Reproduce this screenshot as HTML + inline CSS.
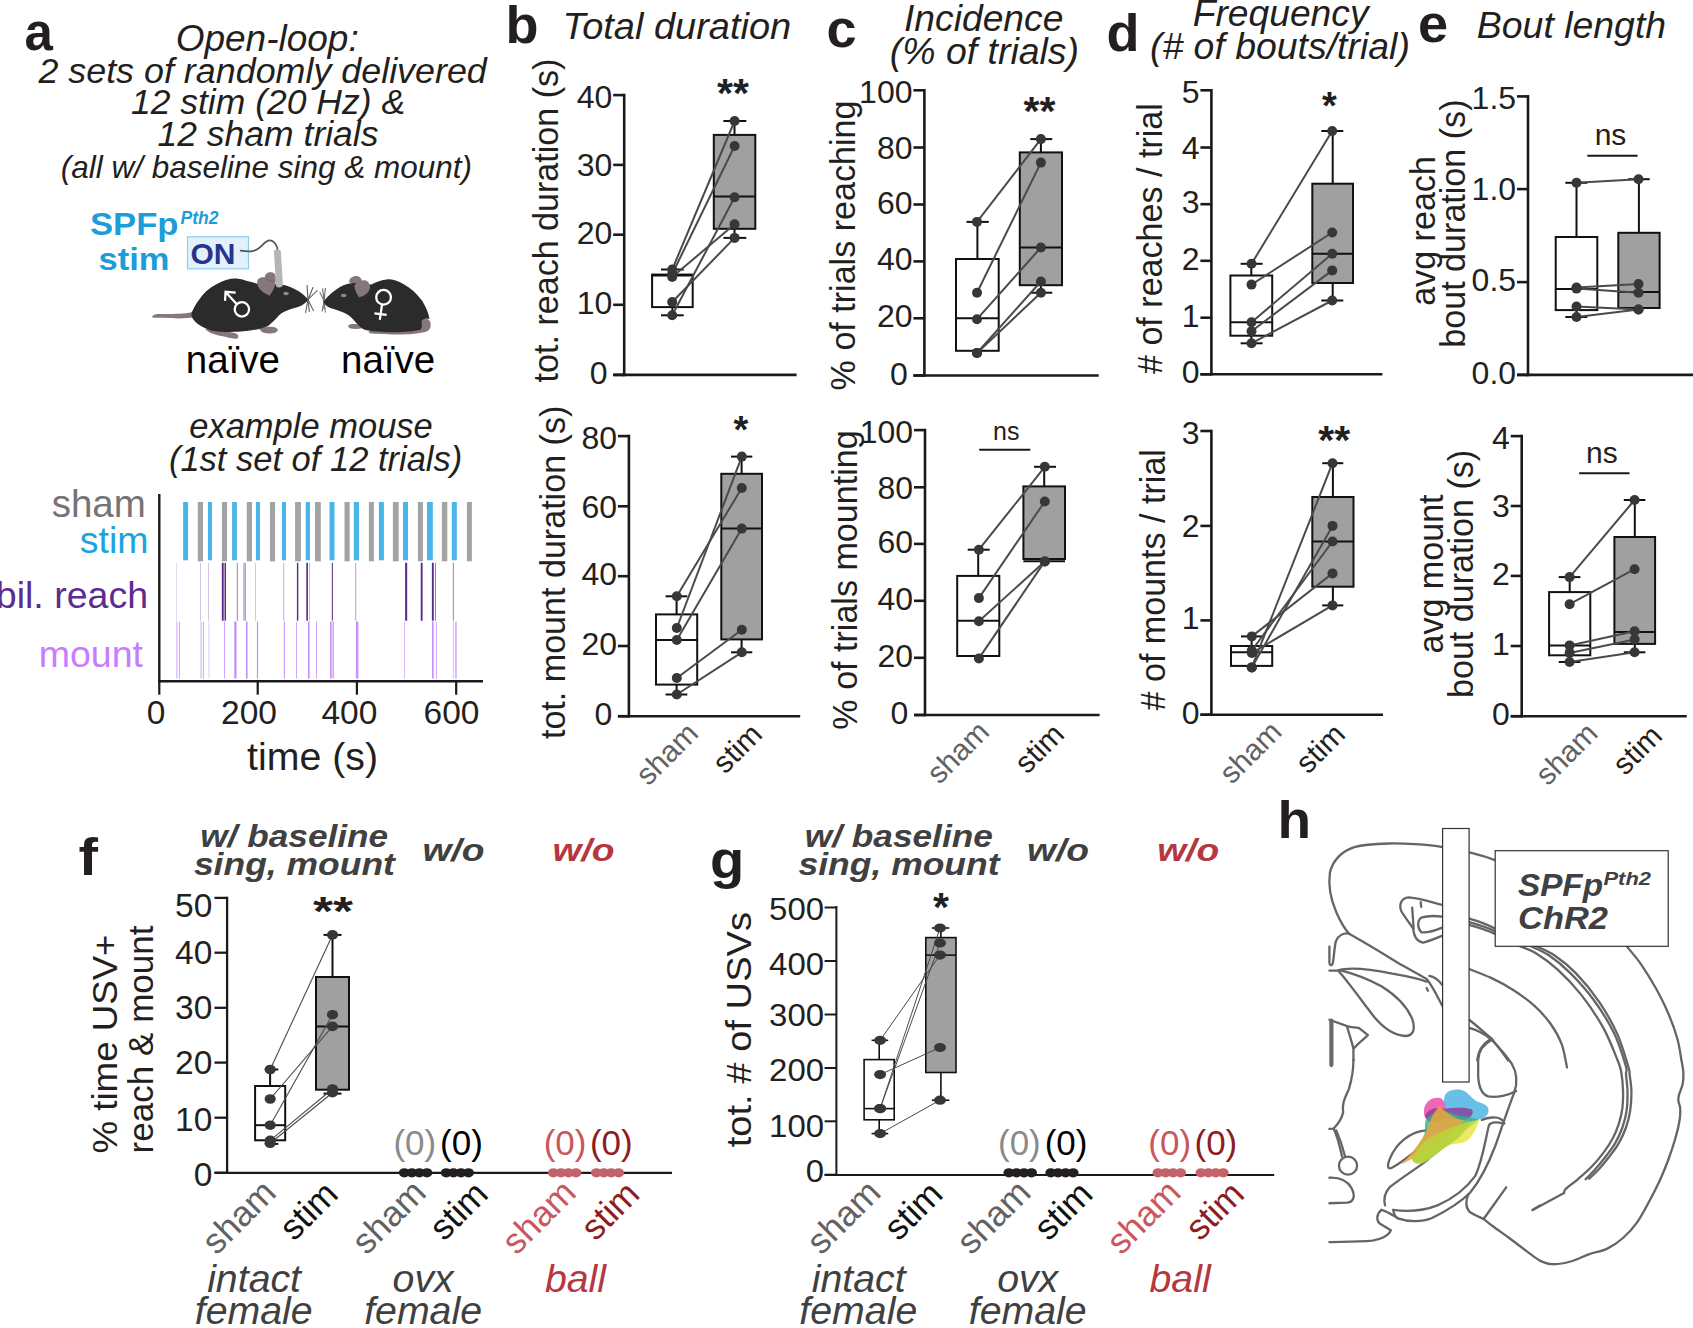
<!DOCTYPE html>
<html><head><meta charset="utf-8"><title>Figure</title>
<style>
html,body{margin:0;padding:0;background:#fff;}
svg{display:block;font-family:"Liberation Sans",sans-serif;fill:#231f20;}
</style></head><body>
<svg width="1693" height="1328" viewBox="0 0 1693 1328">
<rect width="1693" height="1328" fill="#fff"/>
<g id="panel-a">
<text x="24.5" y="49.6" font-size="51" font-weight="bold" >a</text>
<text x="267.2" y="50.7" font-size="37" text-anchor="middle" font-style="italic" >Open-loop:</text>
<text x="262.6" y="82.9" font-size="35.5" text-anchor="middle" font-style="italic" textLength="448.4" lengthAdjust="spacingAndGlyphs" >2 sets of randomly delivered</text>
<text x="268.0" y="113.6" font-size="35.5" text-anchor="middle" font-style="italic" >12 stim (20 Hz) &amp;</text>
<text x="268.0" y="145.9" font-size="35.5" text-anchor="middle" font-style="italic" >12 sham trials</text>
<text x="266.4" y="178.1" font-size="31.5" text-anchor="middle" font-style="italic" >(all w/ baseline sing &amp; mount)</text>
<text x="90.0" y="235.0" font-size="30.5" fill="#1b9dd9" font-weight="bold" textLength="88.5" lengthAdjust="spacingAndGlyphs" >SPFp</text>
<text x="180.5" y="224.0" font-size="17.5" fill="#1b9dd9" font-weight="bold" font-style="italic" >Pth2</text>
<text x="98.5" y="270.0" font-size="30.5" fill="#1b9dd9" font-weight="bold" textLength="71.0" lengthAdjust="spacingAndGlyphs" >stim</text>
<rect x="187.5" y="236.8" width="61" height="32" fill="#e2f1fb" stroke="#8fcdf0" stroke-width="1.2"/>
<text x="190.5" y="264.2" font-size="30" fill="#27348b" font-weight="bold" >ON</text>
<g transform="translate(80,200) scale(0.21853)">
<path d="M735,232 C775,238 795,238 820,220 C845,195 860,178 880,188 C898,198 903,215 906,235" fill="none" stroke="#555" stroke-width="8" stroke-linecap="round"/>
</g>
<g transform="translate(140,260) scale(0.09452)">
<path d="M590,545 C575,535 555,540 545,552 C450,572 300,572 180,570 C150,575 130,590 125,603 C135,612 180,612 250,612 C330,616 420,622 500,614 C540,612 570,606 590,600 Z" fill="#85777a"/>
<path d="M690,730 C720,770 800,795 900,812 C950,822 1000,840 1030,830 C1050,815 1040,785 1010,775 C950,760 850,750 760,735 Z" fill="#85777a"/>
<path d="M1265,725 C1275,760 1310,775 1360,778 C1410,780 1455,765 1458,740 C1455,715 1420,705 1380,705 C1340,705 1300,712 1265,725 Z" fill="#85777a"/>
<path d="M545,565 C570,490 640,390 700,330 C770,270 860,225 930,205 C980,190 1050,195 1100,212 C1180,235 1250,255 1300,262 C1380,262 1450,255 1500,258 C1560,265 1620,295 1680,330 C1720,355 1760,395 1782,420 C1760,450 1720,480 1680,495 C1620,510 1560,530 1500,560 C1460,590 1420,650 1350,700 C1300,725 1200,745 1100,755 C1000,765 850,765 750,745 C680,725 600,680 565,630 C548,605 540,585 545,565 Z" fill="#2b2b2b"/>
<path d="M1240,240 C1235,200 1275,175 1320,185 C1320,140 1370,120 1410,135 C1440,150 1440,200 1435,235 C1430,290 1400,340 1370,378 C1330,360 1280,330 1255,290 C1245,270 1240,255 1240,240 Z" fill="#85777a"/>
<path d="M1330,190 C1345,215 1385,225 1425,222" fill="none" stroke="#5d5154" stroke-width="9" opacity="0.55"/>
<path d="M1416,-95 C1425,-118 1480,-118 1490,-95 L1512,268 C1500,295 1455,298 1440,278 Z" fill="#b5b5b5"/>
<ellipse cx="1545" cy="355" rx="30" ry="19" fill="#8a8a8a"/>
<circle cx="1078" cy="522" r="76" fill="none" stroke="#fff" stroke-width="24"/>
<path d="M1025,468 L915,348 M900,432 L905,337 L1012,346" fill="none" stroke="#fff" stroke-width="24"/>
<line x1="1777" y1="420" x2="1767" y2="265" stroke="#5a5a5a" stroke-width="11"/>
<line x1="1777" y1="420" x2="1832" y2="285" stroke="#5a5a5a" stroke-width="11"/>
<line x1="1777" y1="420" x2="1877" y2="320" stroke="#5a5a5a" stroke-width="11"/>
<line x1="1777" y1="420" x2="1752" y2="560" stroke="#5a5a5a" stroke-width="11"/>
<line x1="1777" y1="420" x2="1792" y2="550" stroke="#5a5a5a" stroke-width="11"/>
<line x1="1777" y1="420" x2="1837" y2="540" stroke="#5a5a5a" stroke-width="11"/>
</g>
<g transform="translate(290,260) scale(0.09452)">
<line x1="360" y1="430" x2="375" y2="295" stroke="#6a6a6a" stroke-width="11"/>
<line x1="360" y1="430" x2="345" y2="300" stroke="#6a6a6a" stroke-width="11"/>
<line x1="360" y1="430" x2="315" y2="340" stroke="#6a6a6a" stroke-width="11"/>
<line x1="360" y1="430" x2="340" y2="545" stroke="#6a6a6a" stroke-width="11"/>
<line x1="360" y1="430" x2="375" y2="555" stroke="#6a6a6a" stroke-width="11"/>
<line x1="360" y1="430" x2="358" y2="520" stroke="#6a6a6a" stroke-width="11"/>
<path d="M615,695 C620,678 660,672 720,680 C750,690 765,710 760,722 C720,735 650,730 625,720 Z" fill="#85777a"/>
<path d="M1390,620 C1420,605 1465,620 1482,650 C1495,690 1488,725 1465,745 C1420,772 1300,785 1200,787 C1050,790 900,782 845,775 C825,768 825,755 850,752 L1380,730 Z" fill="#85777a"/>
<path d="M625,235 C625,195 660,168 705,170 C745,175 765,205 760,240 L700,270 Z" fill="#85777a"/>
<path d="M355,440 C380,400 450,335 520,290 C580,255 650,240 720,245 C780,255 820,265 860,258 C900,240 960,212 1020,205 C1080,200 1140,222 1200,255 C1280,300 1350,365 1400,435 C1440,500 1468,570 1475,625 C1440,610 1400,620 1392,650 C1395,690 1400,720 1380,738 C1300,760 1150,768 1000,762 C900,758 800,750 760,722 C720,690 690,650 640,600 C580,550 480,525 420,505 C385,490 360,465 355,440 Z" fill="#2b2b2b"/>
<path d="M680,275 C690,240 740,215 790,215 C830,222 850,255 845,300 C835,345 790,385 730,395 C705,360 685,315 680,275 Z" fill="#85777a"/>
<ellipse cx="568" cy="375" rx="30" ry="18" fill="#8a8a8a"/>
<circle cx="990" cy="395" r="78" fill="none" stroke="#fff" stroke-width="24"/>
<path d="M973,476 L950,632 M893,566 L1022,581" fill="none" stroke="#fff" stroke-width="24"/>
</g>
<text x="232.9" y="372.5" font-size="38.5" text-anchor="middle" fill="#000" >naïve</text>
<text x="388.1" y="372.5" font-size="38.5" text-anchor="middle" fill="#000" >naïve</text>
<text x="311.0" y="438.1" font-size="34.5" text-anchor="middle" font-style="italic" >example mouse</text>
<text x="315.6" y="471.3" font-size="34.5" text-anchor="middle" font-style="italic" >(1st set of 12 trials)</text>
<text x="145.8" y="517.2" font-size="38.5" text-anchor="end" fill="#747474" >sham</text>
<text x="148.5" y="552.6" font-size="37.5" text-anchor="end" fill="#20a3dc" >stim</text>
<text x="148.0" y="608.2" font-size="37.5" text-anchor="end" fill="#5c2d91" >bil. reach</text>
<text x="143.0" y="666.6" font-size="37.5" text-anchor="end" fill="#c77dff" >mount</text>
<rect x="183.1" y="502.0" width="5.0" height="58.3" fill="#4ab5e8"/>
<rect x="207.9" y="502.0" width="4.1" height="58.3" fill="#4ab5e8"/>
<rect x="232.1" y="502.0" width="4.8" height="58.3" fill="#4ab5e8"/>
<rect x="255.9" y="502.0" width="4.1" height="58.3" fill="#4ab5e8"/>
<rect x="281.9" y="502.0" width="4.1" height="58.3" fill="#4ab5e8"/>
<rect x="305.7" y="502.0" width="4.3" height="58.3" fill="#4ab5e8"/>
<rect x="329.5" y="502.0" width="5.0" height="58.3" fill="#4ab5e8"/>
<rect x="353.8" y="502.0" width="5.2" height="58.3" fill="#4ab5e8"/>
<rect x="378.9" y="502.0" width="5.0" height="58.3" fill="#4ab5e8"/>
<rect x="403.0" y="502.0" width="5.0" height="58.3" fill="#4ab5e8"/>
<rect x="427.0" y="502.0" width="5.8" height="58.3" fill="#4ab5e8"/>
<rect x="451.8" y="502.0" width="5.0" height="58.3" fill="#4ab5e8"/>
<rect x="197.8" y="502.0" width="5.2" height="59.3" fill="#a3a3a3"/>
<rect x="221.9" y="502.0" width="5.2" height="59.3" fill="#a3a3a3"/>
<rect x="246.8" y="502.0" width="5.2" height="59.3" fill="#a3a3a3"/>
<rect x="269.9" y="502.0" width="5.2" height="59.3" fill="#a3a3a3"/>
<rect x="295.1" y="502.0" width="5.8" height="59.3" fill="#a3a3a3"/>
<rect x="315.0" y="502.0" width="5.8" height="59.3" fill="#a3a3a3"/>
<rect x="344.5" y="502.0" width="5.2" height="59.3" fill="#a3a3a3"/>
<rect x="368.9" y="502.0" width="5.0" height="59.3" fill="#a3a3a3"/>
<rect x="392.9" y="502.0" width="5.8" height="59.3" fill="#a3a3a3"/>
<rect x="417.9" y="502.0" width="5.0" height="59.3" fill="#a3a3a3"/>
<rect x="441.9" y="502.0" width="5.4" height="59.3" fill="#a3a3a3"/>
<rect x="466.9" y="502.0" width="5.0" height="59.3" fill="#a3a3a3"/>
<rect x="176.05" y="562.8" width="0.41" height="57.9" fill="#b9a3d0"/>
<rect x="200.34" y="562.8" width="0.62" height="57.9" fill="#b9a3d0"/>
<rect x="208.20" y="562.8" width="0.62" height="57.9" fill="#b9a3d0"/>
<rect x="221.84" y="562.8" width="1.86" height="57.9" fill="#5b2a86"/>
<rect x="224.53" y="562.8" width="1.45" height="57.9" fill="#5b2a86"/>
<rect x="236.83" y="562.8" width="0.83" height="57.9" fill="#8a63b0"/>
<rect x="243.24" y="562.8" width="0.83" height="57.9" fill="#b9a3d0"/>
<rect x="244.58" y="562.8" width="1.03" height="57.9" fill="#8a63b0"/>
<rect x="255.13" y="562.8" width="0.62" height="57.9" fill="#b9a3d0"/>
<rect x="283.35" y="562.8" width="0.83" height="57.9" fill="#b9a3d0"/>
<rect x="296.89" y="562.8" width="1.45" height="57.9" fill="#5b2a86"/>
<rect x="306.30" y="562.8" width="1.65" height="57.9" fill="#5b2a86"/>
<rect x="309.19" y="562.8" width="0.83" height="57.9" fill="#b9a3d0"/>
<rect x="331.83" y="562.8" width="1.03" height="57.9" fill="#5b2a86"/>
<rect x="355.19" y="562.8" width="1.03" height="57.9" fill="#b9a3d0"/>
<rect x="405.12" y="562.8" width="2.07" height="57.9" fill="#5b2a86"/>
<rect x="420.73" y="562.8" width="1.86" height="57.9" fill="#5b2a86"/>
<rect x="431.89" y="562.8" width="1.86" height="57.9" fill="#5b2a86"/>
<rect x="435.09" y="562.8" width="0.83" height="57.9" fill="#8a63b0"/>
<rect x="452.87" y="562.8" width="0.83" height="57.9" fill="#8a63b0"/>
<rect x="176.46" y="621.5" width="0.83" height="57.1" fill="#c791fb"/>
<rect x="178.94" y="621.5" width="0.83" height="57.1" fill="#c791fb"/>
<rect x="200.65" y="621.5" width="0.83" height="57.1" fill="#c791fb"/>
<rect x="202.93" y="621.5" width="0.83" height="57.1" fill="#c791fb"/>
<rect x="208.51" y="621.5" width="0.83" height="57.1" fill="#dcc0fc"/>
<rect x="224.01" y="621.5" width="0.83" height="57.1" fill="#c791fb"/>
<rect x="234.25" y="621.5" width="2.27" height="57.1" fill="#c791fb"/>
<rect x="245.93" y="621.5" width="1.65" height="57.1" fill="#c791fb"/>
<rect x="256.88" y="621.5" width="1.24" height="57.1" fill="#c791fb"/>
<rect x="283.86" y="621.5" width="1.03" height="57.1" fill="#c791fb"/>
<rect x="295.96" y="621.5" width="0.83" height="57.1" fill="#c791fb"/>
<rect x="307.95" y="621.5" width="1.65" height="57.1" fill="#c791fb"/>
<rect x="316.01" y="621.5" width="0.83" height="57.1" fill="#c791fb"/>
<rect x="330.07" y="621.5" width="1.65" height="57.1" fill="#c791fb"/>
<rect x="332.55" y="621.5" width="1.24" height="57.1" fill="#c791fb"/>
<rect x="355.91" y="621.5" width="2.48" height="57.1" fill="#c791fb"/>
<rect x="404.19" y="621.5" width="0.62" height="57.1" fill="#c791fb"/>
<rect x="431.99" y="621.5" width="1.65" height="57.1" fill="#c791fb"/>
<rect x="435.92" y="621.5" width="0.83" height="57.1" fill="#c791fb"/>
<rect x="452.77" y="621.5" width="1.03" height="57.1" fill="#dcc0fc"/>
<rect x="455.35" y="621.5" width="1.24" height="57.1" fill="#c791fb"/>
<line x1="159.3" y1="494.0" x2="159.3" y2="682.4" stroke="#1a1a1a" stroke-width="2.4"/>
<line x1="158.1" y1="681.2" x2="483.0" y2="681.2" stroke="#1a1a1a" stroke-width="2.4"/>
<line x1="159.3" y1="681.2" x2="159.3" y2="694.7" stroke="#1a1a1a" stroke-width="2.2"/>
<text x="156.0" y="723.8" font-size="32.5" text-anchor="middle" textLength="18.6" lengthAdjust="spacingAndGlyphs" >0</text>
<line x1="257.7" y1="681.2" x2="257.7" y2="694.7" stroke="#1a1a1a" stroke-width="2.2"/>
<text x="249.0" y="723.8" font-size="32.5" text-anchor="middle" textLength="55.9" lengthAdjust="spacingAndGlyphs" >200</text>
<line x1="356.9" y1="681.2" x2="356.9" y2="694.7" stroke="#1a1a1a" stroke-width="2.2"/>
<text x="349.4" y="723.8" font-size="32.5" text-anchor="middle" textLength="55.9" lengthAdjust="spacingAndGlyphs" >400</text>
<line x1="456.2" y1="681.2" x2="456.2" y2="694.7" stroke="#1a1a1a" stroke-width="2.2"/>
<text x="451.5" y="723.8" font-size="32.5" text-anchor="middle" textLength="55.9" lengthAdjust="spacingAndGlyphs" >600</text>
<text x="312.5" y="770.3" font-size="39.3" text-anchor="middle" >time (s)</text>
</g>
<g id="panel-b">
<text x="505.5" y="42.5" font-size="51" font-weight="bold" textLength="33.0" lengthAdjust="spacingAndGlyphs" >b</text>
<text x="676.8" y="39.0" font-size="36.5" text-anchor="middle" font-style="italic" textLength="228.6" lengthAdjust="spacingAndGlyphs" >Total duration</text>
<line x1="624.2" y1="93.8" x2="624.2" y2="376.2" stroke="#1a1a1a" stroke-width="2.6"/>
<line x1="613.2" y1="374.9" x2="796.6" y2="374.9" stroke="#1a1a1a" stroke-width="2.6"/>
<line x1="613.2" y1="95.1" x2="624.2" y2="95.1" stroke="#1a1a1a" stroke-width="2.6"/>
<text x="612.3" y="108.1" font-size="32" text-anchor="end" >40</text>
<line x1="613.2" y1="164.9" x2="624.2" y2="164.9" stroke="#1a1a1a" stroke-width="2.6"/>
<text x="612.3" y="176.2" font-size="32" text-anchor="end" >30</text>
<line x1="613.2" y1="234.7" x2="624.2" y2="234.7" stroke="#1a1a1a" stroke-width="2.6"/>
<text x="612.3" y="243.7" font-size="32" text-anchor="end" >20</text>
<line x1="613.2" y1="304.8" x2="624.2" y2="304.8" stroke="#1a1a1a" stroke-width="2.6"/>
<text x="612.3" y="313.8" font-size="32" text-anchor="end" >10</text>
<line x1="613.2" y1="374.9" x2="624.2" y2="374.9" stroke="#1a1a1a" stroke-width="2.6"/>
<text x="607.5" y="383.9" font-size="32" text-anchor="end" >0</text>
<line x1="672.4" y1="269.5" x2="672.4" y2="274.6" stroke="#111" stroke-width="2.0"/>
<line x1="661.0" y1="269.5" x2="683.7" y2="269.5" stroke="#111" stroke-width="2.0"/>
<line x1="672.4" y1="307.1" x2="672.4" y2="315.3" stroke="#111" stroke-width="2.0"/>
<line x1="661.0" y1="315.3" x2="683.7" y2="315.3" stroke="#111" stroke-width="2.0"/>
<rect x="652.1" y="274.6" width="40.6" height="32.5" fill="#fff" stroke="#111" stroke-width="2.0"/>
<line x1="652.1" y1="275.6" x2="692.7" y2="275.6" stroke="#111" stroke-width="2.0"/>
<line x1="734.5" y1="121.0" x2="734.5" y2="134.9" stroke="#111" stroke-width="2.0"/>
<line x1="723.4" y1="121.0" x2="746.3" y2="121.0" stroke="#111" stroke-width="2.0"/>
<line x1="734.5" y1="228.8" x2="734.5" y2="237.9" stroke="#111" stroke-width="2.0"/>
<line x1="723.4" y1="237.9" x2="746.3" y2="237.9" stroke="#111" stroke-width="2.0"/>
<rect x="713.8" y="134.9" width="41.5" height="93.9" fill="#a0a0a0" stroke="#111" stroke-width="2.0"/>
<line x1="713.8" y1="196.6" x2="755.3" y2="196.6" stroke="#111" stroke-width="2.0"/>
<line x1="672.2" y1="269.5" x2="734.6" y2="121.0" stroke="#4a4a4a" stroke-width="2.0"/>
<line x1="672.2" y1="274.0" x2="734.6" y2="146.0" stroke="#4a4a4a" stroke-width="2.0"/>
<line x1="672.2" y1="277.0" x2="734.6" y2="224.3" stroke="#4a4a4a" stroke-width="2.0"/>
<line x1="672.2" y1="302.0" x2="734.6" y2="237.9" stroke="#4a4a4a" stroke-width="2.0"/>
<line x1="672.2" y1="315.3" x2="734.6" y2="197.2" stroke="#4a4a4a" stroke-width="2.0"/>
<circle cx="672.2" cy="269.5" r="5.0" fill="#373737"/>
<circle cx="672.2" cy="274.0" r="5.0" fill="#373737"/>
<circle cx="672.2" cy="277.0" r="5.0" fill="#373737"/>
<circle cx="672.2" cy="302.0" r="5.0" fill="#373737"/>
<circle cx="672.2" cy="315.3" r="5.0" fill="#373737"/>
<circle cx="734.6" cy="121.0" r="5.0" fill="#373737"/>
<circle cx="734.6" cy="146.0" r="5.0" fill="#373737"/>
<circle cx="734.6" cy="224.3" r="5.0" fill="#373737"/>
<circle cx="734.6" cy="237.9" r="5.0" fill="#373737"/>
<circle cx="734.6" cy="197.2" r="5.0" fill="#373737"/>
<text x="733.0" y="106.6" font-size="41" text-anchor="middle" font-weight="bold" >**</text>
<text font-size="34.6" text-anchor="middle" textLength="323.9" lengthAdjust="spacingAndGlyphs" transform="translate(557.8,220.5) rotate(-90)" >tot. reach duration (s)</text>
<line x1="628.9" y1="434.8" x2="628.9" y2="717.5" stroke="#1a1a1a" stroke-width="2.6"/>
<line x1="617.9" y1="716.2" x2="800.2" y2="716.2" stroke="#1a1a1a" stroke-width="2.6"/>
<line x1="617.9" y1="436.1" x2="628.9" y2="436.1" stroke="#1a1a1a" stroke-width="2.6"/>
<text x="617.0" y="449.1" font-size="32" text-anchor="end" >80</text>
<line x1="617.9" y1="506.3" x2="628.9" y2="506.3" stroke="#1a1a1a" stroke-width="2.6"/>
<text x="617.0" y="517.6" font-size="32" text-anchor="end" >60</text>
<line x1="617.9" y1="576.2" x2="628.9" y2="576.2" stroke="#1a1a1a" stroke-width="2.6"/>
<text x="617.0" y="585.2" font-size="32" text-anchor="end" >40</text>
<line x1="617.9" y1="646.0" x2="628.9" y2="646.0" stroke="#1a1a1a" stroke-width="2.6"/>
<text x="617.0" y="655.0" font-size="32" text-anchor="end" >20</text>
<line x1="617.9" y1="716.2" x2="628.9" y2="716.2" stroke="#1a1a1a" stroke-width="2.6"/>
<text x="612.2" y="725.2" font-size="32" text-anchor="end" >0</text>
<line x1="676.6" y1="596.3" x2="676.6" y2="614.4" stroke="#111" stroke-width="2.0"/>
<line x1="665.6" y1="596.3" x2="687.3" y2="596.3" stroke="#111" stroke-width="2.0"/>
<line x1="676.6" y1="684.6" x2="676.6" y2="694.5" stroke="#111" stroke-width="2.0"/>
<line x1="665.6" y1="694.5" x2="687.3" y2="694.5" stroke="#111" stroke-width="2.0"/>
<rect x="656.0" y="614.4" width="41.2" height="70.2" fill="#fff" stroke="#111" stroke-width="2.0"/>
<line x1="656.0" y1="640.0" x2="697.2" y2="640.0" stroke="#111" stroke-width="2.0"/>
<line x1="741.6" y1="456.6" x2="741.6" y2="473.8" stroke="#111" stroke-width="2.0"/>
<line x1="731.0" y1="456.6" x2="752.3" y2="456.6" stroke="#111" stroke-width="2.0"/>
<line x1="741.6" y1="639.4" x2="741.6" y2="652.3" stroke="#111" stroke-width="2.0"/>
<line x1="731.0" y1="652.3" x2="752.3" y2="652.3" stroke="#111" stroke-width="2.0"/>
<rect x="721.3" y="473.8" width="40.7" height="165.6" fill="#a0a0a0" stroke="#111" stroke-width="2.0"/>
<line x1="721.3" y1="528.6" x2="762.0" y2="528.6" stroke="#111" stroke-width="2.0"/>
<line x1="676.8" y1="596.3" x2="741.8" y2="488.0" stroke="#4a4a4a" stroke-width="2.0"/>
<line x1="676.8" y1="628.0" x2="741.8" y2="456.6" stroke="#4a4a4a" stroke-width="2.0"/>
<line x1="676.8" y1="640.0" x2="741.8" y2="528.6" stroke="#4a4a4a" stroke-width="2.0"/>
<line x1="676.8" y1="678.0" x2="741.8" y2="629.8" stroke="#4a4a4a" stroke-width="2.0"/>
<line x1="676.8" y1="694.5" x2="741.8" y2="652.3" stroke="#4a4a4a" stroke-width="2.0"/>
<circle cx="676.8" cy="596.3" r="5.0" fill="#373737"/>
<circle cx="676.8" cy="628.0" r="5.0" fill="#373737"/>
<circle cx="676.8" cy="640.0" r="5.0" fill="#373737"/>
<circle cx="676.8" cy="678.0" r="5.0" fill="#373737"/>
<circle cx="676.8" cy="694.5" r="5.0" fill="#373737"/>
<circle cx="741.8" cy="488.0" r="5.0" fill="#373737"/>
<circle cx="741.8" cy="456.6" r="5.0" fill="#373737"/>
<circle cx="741.8" cy="528.6" r="5.0" fill="#373737"/>
<circle cx="741.8" cy="629.8" r="5.0" fill="#373737"/>
<circle cx="741.8" cy="652.3" r="5.0" fill="#373737"/>
<text x="741.0" y="442.5" font-size="38" text-anchor="middle" font-weight="bold" >*</text>
<text font-size="34.6" text-anchor="middle" textLength="333.4" lengthAdjust="spacingAndGlyphs" transform="translate(564.5,572.4) rotate(-90)" >tot. mount duration (s)</text>
<text font-size="30" text-anchor="end" fill="#626262" transform="translate(700.0,735.0) rotate(-45)" >sham</text>
<text font-size="30" text-anchor="end" transform="translate(764.0,736.0) rotate(-45)" >stim</text>
</g>
<g id="panel-c">
<text x="826.5" y="47.2" font-size="51" font-weight="bold" textLength="30.1" lengthAdjust="spacingAndGlyphs" >c</text>
<text x="983.7" y="31.0" font-size="36.5" text-anchor="middle" font-style="italic" textLength="159.4" lengthAdjust="spacingAndGlyphs" >Incidence</text>
<text x="984.4" y="63.8" font-size="36.5" text-anchor="middle" font-style="italic" textLength="189.2" lengthAdjust="spacingAndGlyphs" >(% of trials)</text>
<line x1="924.4" y1="89.0" x2="924.4" y2="376.8" stroke="#1a1a1a" stroke-width="2.6"/>
<line x1="913.4" y1="375.5" x2="1098.7" y2="375.5" stroke="#1a1a1a" stroke-width="2.6"/>
<line x1="913.4" y1="90.3" x2="924.4" y2="90.3" stroke="#1a1a1a" stroke-width="2.6"/>
<text x="912.5" y="103.3" font-size="32" text-anchor="end" >100</text>
<line x1="913.4" y1="147.5" x2="924.4" y2="147.5" stroke="#1a1a1a" stroke-width="2.6"/>
<text x="912.5" y="158.8" font-size="32" text-anchor="end" >80</text>
<line x1="913.4" y1="204.5" x2="924.4" y2="204.5" stroke="#1a1a1a" stroke-width="2.6"/>
<text x="912.5" y="213.5" font-size="32" text-anchor="end" >60</text>
<line x1="913.4" y1="261.4" x2="924.4" y2="261.4" stroke="#1a1a1a" stroke-width="2.6"/>
<text x="912.5" y="270.4" font-size="32" text-anchor="end" >40</text>
<line x1="913.4" y1="318.3" x2="924.4" y2="318.3" stroke="#1a1a1a" stroke-width="2.6"/>
<text x="912.5" y="327.3" font-size="32" text-anchor="end" >20</text>
<line x1="913.4" y1="375.5" x2="924.4" y2="375.5" stroke="#1a1a1a" stroke-width="2.6"/>
<text x="907.7" y="384.5" font-size="32" text-anchor="end" >0</text>
<line x1="977.4" y1="221.9" x2="977.4" y2="259.0" stroke="#111" stroke-width="2.0"/>
<line x1="966.5" y1="221.9" x2="988.8" y2="221.9" stroke="#111" stroke-width="2.0"/>
<rect x="956.0" y="259.0" width="42.7" height="91.8" fill="#fff" stroke="#111" stroke-width="2.0"/>
<line x1="956.0" y1="318.3" x2="998.7" y2="318.3" stroke="#111" stroke-width="2.0"/>
<line x1="1040.9" y1="139.1" x2="1040.9" y2="152.4" stroke="#111" stroke-width="2.0"/>
<line x1="1030.3" y1="139.1" x2="1052.3" y2="139.1" stroke="#111" stroke-width="2.0"/>
<line x1="1040.9" y1="285.2" x2="1040.9" y2="292.7" stroke="#111" stroke-width="2.0"/>
<line x1="1030.3" y1="292.7" x2="1052.3" y2="292.7" stroke="#111" stroke-width="2.0"/>
<rect x="1019.8" y="152.4" width="42.2" height="132.8" fill="#a0a0a0" stroke="#111" stroke-width="2.0"/>
<line x1="1019.8" y1="247.5" x2="1062.0" y2="247.5" stroke="#111" stroke-width="2.0"/>
<line x1="977.0" y1="221.9" x2="1040.9" y2="139.1" stroke="#4a4a4a" stroke-width="2.0"/>
<line x1="977.0" y1="292.7" x2="1040.9" y2="162.6" stroke="#4a4a4a" stroke-width="2.0"/>
<line x1="977.0" y1="319.2" x2="1040.9" y2="247.5" stroke="#4a4a4a" stroke-width="2.0"/>
<line x1="977.0" y1="352.9" x2="1040.9" y2="281.5" stroke="#4a4a4a" stroke-width="2.0"/>
<line x1="977.0" y1="352.9" x2="1040.9" y2="292.7" stroke="#4a4a4a" stroke-width="2.0"/>
<circle cx="977.0" cy="221.9" r="5.0" fill="#373737"/>
<circle cx="977.0" cy="292.7" r="5.0" fill="#373737"/>
<circle cx="977.0" cy="319.2" r="5.0" fill="#373737"/>
<circle cx="977.0" cy="352.9" r="5.0" fill="#373737"/>
<circle cx="977.0" cy="352.9" r="5.0" fill="#373737"/>
<circle cx="1040.9" cy="139.1" r="5.0" fill="#373737"/>
<circle cx="1040.9" cy="162.6" r="5.0" fill="#373737"/>
<circle cx="1040.9" cy="247.5" r="5.0" fill="#373737"/>
<circle cx="1040.9" cy="281.5" r="5.0" fill="#373737"/>
<circle cx="1040.9" cy="292.7" r="5.0" fill="#373737"/>
<text x="1039.4" y="125.4" font-size="41" text-anchor="middle" font-weight="bold" >**</text>
<text font-size="34.6" text-anchor="middle" textLength="289.8" lengthAdjust="spacingAndGlyphs" transform="translate(854.5,245.5) rotate(-90)" >% of trials reaching</text>
<line x1="925.0" y1="428.8" x2="925.0" y2="716.3" stroke="#1a1a1a" stroke-width="2.6"/>
<line x1="914.0" y1="715.0" x2="1099.6" y2="715.0" stroke="#1a1a1a" stroke-width="2.6"/>
<line x1="914.0" y1="430.1" x2="925.0" y2="430.1" stroke="#1a1a1a" stroke-width="2.6"/>
<text x="913.1" y="443.1" font-size="32" text-anchor="end" >100</text>
<line x1="914.0" y1="487.3" x2="925.0" y2="487.3" stroke="#1a1a1a" stroke-width="2.6"/>
<text x="913.1" y="498.6" font-size="32" text-anchor="end" >80</text>
<line x1="914.0" y1="543.9" x2="925.0" y2="543.9" stroke="#1a1a1a" stroke-width="2.6"/>
<text x="913.1" y="552.9" font-size="32" text-anchor="end" >60</text>
<line x1="914.0" y1="600.8" x2="925.0" y2="600.8" stroke="#1a1a1a" stroke-width="2.6"/>
<text x="913.1" y="609.8" font-size="32" text-anchor="end" >40</text>
<line x1="914.0" y1="657.8" x2="925.0" y2="657.8" stroke="#1a1a1a" stroke-width="2.6"/>
<text x="913.1" y="666.8" font-size="32" text-anchor="end" >20</text>
<line x1="914.0" y1="715.0" x2="925.0" y2="715.0" stroke="#1a1a1a" stroke-width="2.6"/>
<text x="908.3" y="724.0" font-size="32" text-anchor="end" >0</text>
<line x1="978.2" y1="549.7" x2="978.2" y2="575.9" stroke="#111" stroke-width="2.0"/>
<line x1="967.7" y1="549.7" x2="989.7" y2="549.7" stroke="#111" stroke-width="2.0"/>
<rect x="957.2" y="575.9" width="42.1" height="80.1" fill="#fff" stroke="#111" stroke-width="2.0"/>
<line x1="957.2" y1="620.7" x2="999.3" y2="620.7" stroke="#111" stroke-width="2.0"/>
<line x1="1044.2" y1="466.8" x2="1044.2" y2="486.4" stroke="#111" stroke-width="2.0"/>
<line x1="1034.0" y1="466.8" x2="1056.0" y2="466.8" stroke="#111" stroke-width="2.0"/>
<rect x="1023.4" y="486.4" width="41.6" height="72.6" fill="#a0a0a0" stroke="#111" stroke-width="2.0"/>
<line x1="1023.4" y1="561.2" x2="1065.0" y2="561.2" stroke="#111" stroke-width="2.0"/>
<line x1="978.9" y1="549.7" x2="1044.8" y2="466.8" stroke="#4a4a4a" stroke-width="2.0"/>
<line x1="978.9" y1="598.1" x2="1044.8" y2="501.5" stroke="#4a4a4a" stroke-width="2.0"/>
<line x1="978.9" y1="621.3" x2="1044.8" y2="561.4" stroke="#4a4a4a" stroke-width="2.0"/>
<line x1="978.9" y1="658.4" x2="1044.8" y2="561.4" stroke="#4a4a4a" stroke-width="2.0"/>
<circle cx="978.9" cy="549.7" r="5.0" fill="#373737"/>
<circle cx="978.9" cy="598.1" r="5.0" fill="#373737"/>
<circle cx="978.9" cy="621.3" r="5.0" fill="#373737"/>
<circle cx="978.9" cy="658.4" r="5.0" fill="#373737"/>
<circle cx="1044.8" cy="466.8" r="5.0" fill="#373737"/>
<circle cx="1044.8" cy="501.5" r="5.0" fill="#373737"/>
<circle cx="1044.8" cy="561.4" r="5.0" fill="#373737"/>
<circle cx="1044.8" cy="561.4" r="5.0" fill="#373737"/>
<text x="1006.3" y="440.0" font-size="25" text-anchor="middle" >ns</text>
<line x1="979.2" y1="449.7" x2="1030.3" y2="449.7" stroke="#1a1a1a" stroke-width="2"/>
<text font-size="34.6" text-anchor="middle" textLength="299.3" lengthAdjust="spacingAndGlyphs" transform="translate(857.0,580.0) rotate(-90)" >% of trials mounting</text>
<text font-size="30" text-anchor="end" fill="#626262" transform="translate(991.0,733.5) rotate(-45)" >sham</text>
<text font-size="30" text-anchor="end" transform="translate(1066.0,736.0) rotate(-45)" >stim</text>
</g>
<g id="panel-d">
<text x="1106.5" y="51.0" font-size="51" font-weight="bold" textLength="33.0" lengthAdjust="spacingAndGlyphs" >d</text>
<text x="1280.6" y="26.2" font-size="36.5" text-anchor="middle" font-style="italic" textLength="175.9" lengthAdjust="spacingAndGlyphs" >Frequency</text>
<text x="1279.9" y="58.9" font-size="36.5" text-anchor="middle" font-style="italic" textLength="259.9" lengthAdjust="spacingAndGlyphs" >(# of bouts/trial)</text>
<line x1="1211.4" y1="89.0" x2="1211.4" y2="375.6" stroke="#1a1a1a" stroke-width="2.6"/>
<line x1="1200.4" y1="374.3" x2="1382.4" y2="374.3" stroke="#1a1a1a" stroke-width="2.6"/>
<line x1="1200.4" y1="90.3" x2="1211.4" y2="90.3" stroke="#1a1a1a" stroke-width="2.6"/>
<text x="1199.5" y="103.3" font-size="32" text-anchor="end" >5</text>
<line x1="1200.4" y1="147.5" x2="1211.4" y2="147.5" stroke="#1a1a1a" stroke-width="2.6"/>
<text x="1199.5" y="158.8" font-size="32" text-anchor="end" >4</text>
<line x1="1200.4" y1="204.2" x2="1211.4" y2="204.2" stroke="#1a1a1a" stroke-width="2.6"/>
<text x="1199.5" y="213.2" font-size="32" text-anchor="end" >3</text>
<line x1="1200.4" y1="260.8" x2="1211.4" y2="260.8" stroke="#1a1a1a" stroke-width="2.6"/>
<text x="1199.5" y="269.8" font-size="32" text-anchor="end" >2</text>
<line x1="1200.4" y1="317.7" x2="1211.4" y2="317.7" stroke="#1a1a1a" stroke-width="2.6"/>
<text x="1199.5" y="326.7" font-size="32" text-anchor="end" >1</text>
<line x1="1200.4" y1="374.3" x2="1211.4" y2="374.3" stroke="#1a1a1a" stroke-width="2.6"/>
<text x="1199.5" y="383.3" font-size="32" text-anchor="end" >0</text>
<line x1="1251.3" y1="263.8" x2="1251.3" y2="275.5" stroke="#111" stroke-width="2.0"/>
<line x1="1240.6" y1="263.8" x2="1262.6" y2="263.8" stroke="#111" stroke-width="2.0"/>
<line x1="1251.3" y1="335.7" x2="1251.3" y2="343.3" stroke="#111" stroke-width="2.0"/>
<line x1="1240.6" y1="343.3" x2="1262.6" y2="343.3" stroke="#111" stroke-width="2.0"/>
<rect x="1230.4" y="275.5" width="41.8" height="60.2" fill="#fff" stroke="#111" stroke-width="2.0"/>
<line x1="1230.4" y1="322.2" x2="1272.2" y2="322.2" stroke="#111" stroke-width="2.0"/>
<line x1="1332.7" y1="131.0" x2="1332.7" y2="183.7" stroke="#111" stroke-width="2.0"/>
<line x1="1321.3" y1="131.0" x2="1343.3" y2="131.0" stroke="#111" stroke-width="2.0"/>
<line x1="1332.7" y1="283.0" x2="1332.7" y2="300.5" stroke="#111" stroke-width="2.0"/>
<line x1="1321.3" y1="300.5" x2="1343.3" y2="300.5" stroke="#111" stroke-width="2.0"/>
<rect x="1312.3" y="183.7" width="40.7" height="99.3" fill="#a0a0a0" stroke="#111" stroke-width="2.0"/>
<line x1="1312.3" y1="253.8" x2="1353.0" y2="253.8" stroke="#111" stroke-width="2.0"/>
<line x1="1251.5" y1="263.8" x2="1332.2" y2="131.0" stroke="#4a4a4a" stroke-width="2.0"/>
<line x1="1251.5" y1="284.6" x2="1332.2" y2="232.5" stroke="#4a4a4a" stroke-width="2.0"/>
<line x1="1251.5" y1="322.2" x2="1332.2" y2="253.8" stroke="#4a4a4a" stroke-width="2.0"/>
<line x1="1251.5" y1="331.2" x2="1332.2" y2="270.4" stroke="#4a4a4a" stroke-width="2.0"/>
<line x1="1251.5" y1="343.3" x2="1332.2" y2="300.5" stroke="#4a4a4a" stroke-width="2.0"/>
<circle cx="1251.5" cy="263.8" r="5.0" fill="#373737"/>
<circle cx="1251.5" cy="284.6" r="5.0" fill="#373737"/>
<circle cx="1251.5" cy="322.2" r="5.0" fill="#373737"/>
<circle cx="1251.5" cy="331.2" r="5.0" fill="#373737"/>
<circle cx="1251.5" cy="343.3" r="5.0" fill="#373737"/>
<circle cx="1332.2" cy="131.0" r="5.0" fill="#373737"/>
<circle cx="1332.2" cy="232.5" r="5.0" fill="#373737"/>
<circle cx="1332.2" cy="253.8" r="5.0" fill="#373737"/>
<circle cx="1332.2" cy="270.4" r="5.0" fill="#373737"/>
<circle cx="1332.2" cy="300.5" r="5.0" fill="#373737"/>
<text x="1329.5" y="119.4" font-size="38" text-anchor="middle" font-weight="bold" >*</text>
<text font-size="34.6" text-anchor="middle" textLength="270.9" lengthAdjust="spacingAndGlyphs" transform="translate(1161.5,238.6) rotate(-90)" ># of reaches / trial</text>
<line x1="1211.4" y1="429.7" x2="1211.4" y2="716.0" stroke="#1a1a1a" stroke-width="2.6"/>
<line x1="1200.4" y1="714.7" x2="1383.0" y2="714.7" stroke="#1a1a1a" stroke-width="2.6"/>
<line x1="1200.4" y1="431.0" x2="1211.4" y2="431.0" stroke="#1a1a1a" stroke-width="2.6"/>
<text x="1199.5" y="444.0" font-size="32" text-anchor="end" >3</text>
<line x1="1200.4" y1="525.9" x2="1211.4" y2="525.9" stroke="#1a1a1a" stroke-width="2.6"/>
<text x="1199.5" y="537.2" font-size="32" text-anchor="end" >2</text>
<line x1="1200.4" y1="620.4" x2="1211.4" y2="620.4" stroke="#1a1a1a" stroke-width="2.6"/>
<text x="1199.5" y="629.4" font-size="32" text-anchor="end" >1</text>
<line x1="1200.4" y1="714.7" x2="1211.4" y2="714.7" stroke="#1a1a1a" stroke-width="2.6"/>
<text x="1199.5" y="723.7" font-size="32" text-anchor="end" >0</text>
<line x1="1251.6" y1="636.4" x2="1251.6" y2="646.0" stroke="#111" stroke-width="2.0"/>
<line x1="1241.0" y1="636.4" x2="1262.6" y2="636.4" stroke="#111" stroke-width="2.0"/>
<rect x="1231.0" y="646.0" width="41.2" height="19.9" fill="#fff" stroke="#111" stroke-width="2.0"/>
<line x1="1231.0" y1="652.3" x2="1272.2" y2="652.3" stroke="#111" stroke-width="2.0"/>
<line x1="1332.9" y1="463.2" x2="1332.9" y2="497.0" stroke="#111" stroke-width="2.0"/>
<line x1="1322.2" y1="463.2" x2="1343.3" y2="463.2" stroke="#111" stroke-width="2.0"/>
<line x1="1332.9" y1="586.7" x2="1332.9" y2="605.4" stroke="#111" stroke-width="2.0"/>
<line x1="1322.2" y1="605.4" x2="1343.3" y2="605.4" stroke="#111" stroke-width="2.0"/>
<rect x="1312.3" y="497.0" width="41.2" height="89.7" fill="#a0a0a0" stroke="#111" stroke-width="2.0"/>
<line x1="1312.3" y1="541.5" x2="1353.5" y2="541.5" stroke="#111" stroke-width="2.0"/>
<line x1="1251.8" y1="636.4" x2="1332.5" y2="573.4" stroke="#4a4a4a" stroke-width="2.0"/>
<line x1="1251.8" y1="650.5" x2="1332.5" y2="541.5" stroke="#4a4a4a" stroke-width="2.0"/>
<line x1="1251.8" y1="653.0" x2="1332.5" y2="605.4" stroke="#4a4a4a" stroke-width="2.0"/>
<line x1="1251.8" y1="667.4" x2="1332.5" y2="463.2" stroke="#4a4a4a" stroke-width="2.0"/>
<line x1="1251.8" y1="667.4" x2="1332.5" y2="525.9" stroke="#4a4a4a" stroke-width="2.0"/>
<circle cx="1251.8" cy="636.4" r="5.0" fill="#373737"/>
<circle cx="1251.8" cy="650.5" r="5.0" fill="#373737"/>
<circle cx="1251.8" cy="653.0" r="5.0" fill="#373737"/>
<circle cx="1251.8" cy="667.4" r="5.0" fill="#373737"/>
<circle cx="1251.8" cy="667.4" r="5.0" fill="#373737"/>
<circle cx="1332.5" cy="573.4" r="5.0" fill="#373737"/>
<circle cx="1332.5" cy="541.5" r="5.0" fill="#373737"/>
<circle cx="1332.5" cy="605.4" r="5.0" fill="#373737"/>
<circle cx="1332.5" cy="463.2" r="5.0" fill="#373737"/>
<circle cx="1332.5" cy="525.9" r="5.0" fill="#373737"/>
<text x="1334.3" y="453.7" font-size="41" text-anchor="middle" font-weight="bold" >**</text>
<text font-size="34.6" text-anchor="middle" textLength="261.4" lengthAdjust="spacingAndGlyphs" transform="translate(1164.5,579.8) rotate(-90)" ># of mounts / trial</text>
<text font-size="30" text-anchor="end" fill="#626262" transform="translate(1283.5,733.5) rotate(-45)" >sham</text>
<text font-size="30" text-anchor="end" transform="translate(1347.0,736.0) rotate(-45)" >stim</text>
</g>
<g id="panel-e">
<text x="1418.0" y="42.3" font-size="51" font-weight="bold" textLength="30.1" lengthAdjust="spacingAndGlyphs" >e</text>
<text x="1571.5" y="38.4" font-size="36.5" text-anchor="middle" font-style="italic" textLength="189.3" lengthAdjust="spacingAndGlyphs" >Bout length</text>
<line x1="1528.0" y1="95.1" x2="1528.0" y2="376.2" stroke="#1a1a1a" stroke-width="2.6"/>
<line x1="1517.0" y1="374.9" x2="1693.0" y2="374.9" stroke="#1a1a1a" stroke-width="2.6"/>
<line x1="1517.0" y1="96.4" x2="1528.0" y2="96.4" stroke="#1a1a1a" stroke-width="2.6"/>
<text x="1516.1" y="109.4" font-size="32" text-anchor="end" >1.5</text>
<line x1="1517.0" y1="189.1" x2="1528.0" y2="189.1" stroke="#1a1a1a" stroke-width="2.6"/>
<text x="1516.1" y="200.4" font-size="32" text-anchor="end" >1.0</text>
<line x1="1517.0" y1="282.1" x2="1528.0" y2="282.1" stroke="#1a1a1a" stroke-width="2.6"/>
<text x="1516.1" y="291.1" font-size="32" text-anchor="end" >0.5</text>
<line x1="1517.0" y1="374.9" x2="1528.0" y2="374.9" stroke="#1a1a1a" stroke-width="2.6"/>
<text x="1516.1" y="383.9" font-size="32" text-anchor="end" >0.0</text>
<line x1="1576.5" y1="182.8" x2="1576.5" y2="237.0" stroke="#111" stroke-width="2.0"/>
<line x1="1565.3" y1="182.8" x2="1587.3" y2="182.8" stroke="#111" stroke-width="2.0"/>
<line x1="1576.5" y1="310.1" x2="1576.5" y2="317.0" stroke="#111" stroke-width="2.0"/>
<line x1="1565.3" y1="317.0" x2="1587.3" y2="317.0" stroke="#111" stroke-width="2.0"/>
<rect x="1555.7" y="237.0" width="41.6" height="73.1" fill="#fff" stroke="#111" stroke-width="2.0"/>
<line x1="1555.7" y1="289.1" x2="1597.3" y2="289.1" stroke="#111" stroke-width="2.0"/>
<line x1="1638.9" y1="179.2" x2="1638.9" y2="232.8" stroke="#111" stroke-width="2.0"/>
<line x1="1628.0" y1="179.2" x2="1649.7" y2="179.2" stroke="#111" stroke-width="2.0"/>
<rect x="1618.3" y="232.8" width="41.3" height="75.2" fill="#a0a0a0" stroke="#111" stroke-width="2.0"/>
<line x1="1618.3" y1="292.0" x2="1659.6" y2="292.0" stroke="#111" stroke-width="2.0"/>
<line x1="1576.5" y1="182.8" x2="1638.5" y2="179.2" stroke="#4a4a4a" stroke-width="2.0"/>
<line x1="1576.5" y1="287.6" x2="1638.5" y2="284.0" stroke="#4a4a4a" stroke-width="2.0"/>
<line x1="1576.5" y1="288.6" x2="1638.5" y2="292.7" stroke="#4a4a4a" stroke-width="2.0"/>
<line x1="1576.5" y1="306.5" x2="1638.5" y2="309.5" stroke="#4a4a4a" stroke-width="2.0"/>
<line x1="1576.5" y1="317.0" x2="1638.5" y2="309.5" stroke="#4a4a4a" stroke-width="2.0"/>
<circle cx="1576.5" cy="182.8" r="5.0" fill="#373737"/>
<circle cx="1576.5" cy="287.6" r="5.0" fill="#373737"/>
<circle cx="1576.5" cy="288.6" r="5.0" fill="#373737"/>
<circle cx="1576.5" cy="306.5" r="5.0" fill="#373737"/>
<circle cx="1576.5" cy="317.0" r="5.0" fill="#373737"/>
<circle cx="1638.5" cy="179.2" r="5.0" fill="#373737"/>
<circle cx="1638.5" cy="284.0" r="5.0" fill="#373737"/>
<circle cx="1638.5" cy="292.7" r="5.0" fill="#373737"/>
<circle cx="1638.5" cy="309.5" r="5.0" fill="#373737"/>
<circle cx="1638.5" cy="309.5" r="5.0" fill="#373737"/>
<text x="1610.5" y="145.4" font-size="30" text-anchor="middle" >ns</text>
<line x1="1587.3" y1="155.7" x2="1637.6" y2="155.7" stroke="#1a1a1a" stroke-width="2"/>
<text font-size="34.6" text-anchor="middle" textLength="149.7" lengthAdjust="spacingAndGlyphs" transform="translate(1435.3,231.0) rotate(-90)" >avg reach</text>
<text font-size="34.6" text-anchor="middle" textLength="248.2" lengthAdjust="spacingAndGlyphs" transform="translate(1465.4,223.6) rotate(-90)" >bout duration (s)</text>
<line x1="1521.7" y1="434.8" x2="1521.7" y2="717.5" stroke="#1a1a1a" stroke-width="2.6"/>
<line x1="1510.7" y1="716.2" x2="1686.7" y2="716.2" stroke="#1a1a1a" stroke-width="2.6"/>
<line x1="1510.7" y1="436.1" x2="1521.7" y2="436.1" stroke="#1a1a1a" stroke-width="2.6"/>
<text x="1509.8" y="449.1" font-size="32" text-anchor="end" >4</text>
<line x1="1510.7" y1="506.0" x2="1521.7" y2="506.0" stroke="#1a1a1a" stroke-width="2.6"/>
<text x="1509.8" y="517.3" font-size="32" text-anchor="end" >3</text>
<line x1="1510.7" y1="575.9" x2="1521.7" y2="575.9" stroke="#1a1a1a" stroke-width="2.6"/>
<text x="1509.8" y="584.9" font-size="32" text-anchor="end" >2</text>
<line x1="1510.7" y1="646.0" x2="1521.7" y2="646.0" stroke="#1a1a1a" stroke-width="2.6"/>
<text x="1509.8" y="655.0" font-size="32" text-anchor="end" >1</text>
<line x1="1510.7" y1="716.2" x2="1521.7" y2="716.2" stroke="#1a1a1a" stroke-width="2.6"/>
<text x="1509.8" y="725.2" font-size="32" text-anchor="end" >0</text>
<line x1="1569.7" y1="577.1" x2="1569.7" y2="592.1" stroke="#111" stroke-width="2.0"/>
<line x1="1558.7" y1="577.1" x2="1580.4" y2="577.1" stroke="#111" stroke-width="2.0"/>
<line x1="1569.7" y1="655.3" x2="1569.7" y2="662.0" stroke="#111" stroke-width="2.0"/>
<line x1="1558.7" y1="662.0" x2="1580.4" y2="662.0" stroke="#111" stroke-width="2.0"/>
<rect x="1549.1" y="592.1" width="41.2" height="63.2" fill="#fff" stroke="#111" stroke-width="2.0"/>
<line x1="1549.1" y1="645.4" x2="1590.3" y2="645.4" stroke="#111" stroke-width="2.0"/>
<line x1="1634.8" y1="500.0" x2="1634.8" y2="537.0" stroke="#111" stroke-width="2.0"/>
<line x1="1623.8" y1="500.0" x2="1645.4" y2="500.0" stroke="#111" stroke-width="2.0"/>
<line x1="1634.8" y1="643.9" x2="1634.8" y2="652.3" stroke="#111" stroke-width="2.0"/>
<line x1="1623.8" y1="652.3" x2="1645.4" y2="652.3" stroke="#111" stroke-width="2.0"/>
<rect x="1614.4" y="537.0" width="40.7" height="106.9" fill="#a0a0a0" stroke="#111" stroke-width="2.0"/>
<line x1="1614.4" y1="631.9" x2="1655.1" y2="631.9" stroke="#111" stroke-width="2.0"/>
<line x1="1569.6" y1="577.1" x2="1634.6" y2="500.0" stroke="#4a4a4a" stroke-width="2.0"/>
<line x1="1569.6" y1="604.2" x2="1634.6" y2="569.2" stroke="#4a4a4a" stroke-width="2.0"/>
<line x1="1569.6" y1="645.4" x2="1634.6" y2="631.3" stroke="#4a4a4a" stroke-width="2.0"/>
<line x1="1569.6" y1="652.9" x2="1634.6" y2="639.4" stroke="#4a4a4a" stroke-width="2.0"/>
<line x1="1569.6" y1="662.0" x2="1634.6" y2="652.3" stroke="#4a4a4a" stroke-width="2.0"/>
<circle cx="1569.6" cy="577.1" r="5.0" fill="#373737"/>
<circle cx="1569.6" cy="604.2" r="5.0" fill="#373737"/>
<circle cx="1569.6" cy="645.4" r="5.0" fill="#373737"/>
<circle cx="1569.6" cy="652.9" r="5.0" fill="#373737"/>
<circle cx="1569.6" cy="662.0" r="5.0" fill="#373737"/>
<circle cx="1634.6" cy="500.0" r="5.0" fill="#373737"/>
<circle cx="1634.6" cy="569.2" r="5.0" fill="#373737"/>
<circle cx="1634.6" cy="631.3" r="5.0" fill="#373737"/>
<circle cx="1634.6" cy="639.4" r="5.0" fill="#373737"/>
<circle cx="1634.6" cy="652.3" r="5.0" fill="#373737"/>
<text x="1601.8" y="463.2" font-size="30" text-anchor="middle" >ns</text>
<line x1="1579.2" y1="473.2" x2="1629.5" y2="473.2" stroke="#1a1a1a" stroke-width="2"/>
<text font-size="34.6" text-anchor="middle" textLength="159.1" lengthAdjust="spacingAndGlyphs" transform="translate(1442.8,574.0) rotate(-90)" >avg mount</text>
<text font-size="34.6" text-anchor="middle" textLength="248.2" lengthAdjust="spacingAndGlyphs" transform="translate(1472.9,573.9) rotate(-90)" >bout duration (s)</text>
<text font-size="30" text-anchor="end" fill="#626262" transform="translate(1599.5,735.0) rotate(-45)" >sham</text>
<text font-size="30" text-anchor="end" transform="translate(1664.0,737.5) rotate(-45)" >stim</text>
</g>
<g id="panel-f">
<text x="78.5" y="875.3" font-size="51" font-weight="bold" textLength="19.5" lengthAdjust="spacingAndGlyphs" >f</text>
<line x1="227.1" y1="896.8" x2="227.1" y2="1174.0" stroke="#1a1a1a" stroke-width="2.3"/>
<line x1="214.5" y1="1172.8" x2="672.0" y2="1172.8" stroke="#1a1a1a" stroke-width="2.3"/>
<line x1="214.5" y1="897.9" x2="227.1" y2="897.9" stroke="#1a1a1a" stroke-width="2.3"/>
<text x="212.3" y="916.5" font-size="33.5" text-anchor="end" >50</text>
<line x1="214.5" y1="952.7" x2="227.1" y2="952.7" stroke="#1a1a1a" stroke-width="2.3"/>
<text x="212.3" y="964.3" font-size="33.5" text-anchor="end" >40</text>
<line x1="214.5" y1="1007.8" x2="227.1" y2="1007.8" stroke="#1a1a1a" stroke-width="2.3"/>
<text x="212.3" y="1019.4" font-size="33.5" text-anchor="end" >30</text>
<line x1="214.5" y1="1062.6" x2="227.1" y2="1062.6" stroke="#1a1a1a" stroke-width="2.3"/>
<text x="212.3" y="1074.2" font-size="33.5" text-anchor="end" >20</text>
<line x1="214.5" y1="1117.7" x2="227.1" y2="1117.7" stroke="#1a1a1a" stroke-width="2.3"/>
<text x="212.3" y="1130.6" font-size="33.5" text-anchor="end" >10</text>
<line x1="214.5" y1="1172.8" x2="227.1" y2="1172.8" stroke="#1a1a1a" stroke-width="2.3"/>
<text x="212.3" y="1185.8" font-size="33.5" text-anchor="end" >0</text>
<line x1="270.1" y1="1069.5" x2="270.1" y2="1086.0" stroke="#111" stroke-width="2.0"/>
<line x1="264.8" y1="1069.5" x2="278.3" y2="1069.5" stroke="#111" stroke-width="2.0"/>
<line x1="270.1" y1="1140.3" x2="270.1" y2="1143.9" stroke="#111" stroke-width="2.0"/>
<line x1="264.8" y1="1143.9" x2="278.3" y2="1143.9" stroke="#111" stroke-width="2.0"/>
<rect x="255.1" y="1086.0" width="30.1" height="54.3" fill="#fff" stroke="#111" stroke-width="2.0"/>
<line x1="255.1" y1="1125.2" x2="285.2" y2="1125.2" stroke="#111" stroke-width="2.0"/>
<line x1="332.5" y1="934.9" x2="332.5" y2="977.0" stroke="#111" stroke-width="2.0"/>
<line x1="323.5" y1="934.9" x2="341.5" y2="934.9" stroke="#111" stroke-width="2.0"/>
<line x1="332.5" y1="1089.7" x2="332.5" y2="1093.6" stroke="#111" stroke-width="2.0"/>
<line x1="323.5" y1="1093.6" x2="341.5" y2="1093.6" stroke="#111" stroke-width="2.0"/>
<rect x="316.0" y="977.0" width="33.0" height="112.7" fill="#a0a0a0" stroke="#111" stroke-width="2.0"/>
<line x1="316.0" y1="1026.4" x2="349.0" y2="1026.4" stroke="#111" stroke-width="2.0"/>
<line x1="270.2" y1="1069.5" x2="332.5" y2="934.9" stroke="#4a4a4a" stroke-width="1.1"/>
<line x1="270.2" y1="1099.0" x2="332.5" y2="1026.4" stroke="#4a4a4a" stroke-width="1.1"/>
<line x1="270.2" y1="1125.2" x2="332.5" y2="1014.7" stroke="#4a4a4a" stroke-width="1.1"/>
<line x1="270.2" y1="1140.3" x2="332.5" y2="1089.0" stroke="#4a4a4a" stroke-width="1.1"/>
<line x1="270.2" y1="1143.3" x2="332.5" y2="1092.7" stroke="#4a4a4a" stroke-width="1.1"/>
<ellipse cx="270.2" cy="1069.5" rx="5.6" ry="4.8" fill="#373737"/>
<ellipse cx="270.2" cy="1099.0" rx="5.6" ry="4.8" fill="#373737"/>
<ellipse cx="270.2" cy="1125.2" rx="5.6" ry="4.8" fill="#373737"/>
<ellipse cx="270.2" cy="1140.3" rx="5.6" ry="4.8" fill="#373737"/>
<ellipse cx="270.2" cy="1143.3" rx="5.6" ry="4.8" fill="#373737"/>
<ellipse cx="332.5" cy="934.9" rx="5.6" ry="4.8" fill="#373737"/>
<ellipse cx="332.5" cy="1026.4" rx="5.6" ry="4.8" fill="#373737"/>
<ellipse cx="332.5" cy="1014.7" rx="5.6" ry="4.8" fill="#373737"/>
<ellipse cx="332.5" cy="1089.0" rx="5.6" ry="4.8" fill="#373737"/>
<ellipse cx="332.5" cy="1092.7" rx="5.6" ry="4.8" fill="#373737"/>
<text x="333.1" y="924.5" font-size="41" text-anchor="middle" font-weight="bold" textLength="40.0" lengthAdjust="spacingAndGlyphs" >**</text>
<text font-size="34.6" text-anchor="middle" textLength="219.0" lengthAdjust="spacingAndGlyphs" transform="translate(117.2,1044.0) rotate(-90)" >%  time USV+</text>
<text font-size="34.6" text-anchor="middle" textLength="228.0" lengthAdjust="spacingAndGlyphs" transform="translate(153.3,1039.4) rotate(-90)" >reach &amp; mount</text>
<text x="294.2" y="846.7" font-size="31" text-anchor="middle" fill="#404041" font-weight="bold" font-style="italic" textLength="188.0" lengthAdjust="spacingAndGlyphs" >w/ baseline</text>
<text x="294.4" y="874.7" font-size="31" text-anchor="middle" fill="#404041" font-weight="bold" font-style="italic" textLength="201.0" lengthAdjust="spacingAndGlyphs" >sing, mount</text>
<text x="453.4" y="861.1" font-size="31" text-anchor="middle" fill="#404041" font-weight="bold" font-style="italic" textLength="62.0" lengthAdjust="spacingAndGlyphs" >w/o</text>
<text x="583.6" y="861.1" font-size="31" text-anchor="middle" fill="#b5373f" font-weight="bold" font-style="italic" textLength="62.0" lengthAdjust="spacingAndGlyphs" >w/o</text>
<text x="414.8" y="1154.8" font-size="35" text-anchor="middle" fill="#8a8a8a" >(0)</text>
<text x="461.5" y="1154.8" font-size="35" text-anchor="middle" fill="#000" >(0)</text>
<text x="565.1" y="1154.8" font-size="35" text-anchor="middle" fill="#c9575d" >(0)</text>
<text x="611.3" y="1154.8" font-size="35" text-anchor="middle" fill="#8e1b21" >(0)</text>
<ellipse cx="404.3" cy="1172.8" rx="5.5" ry="4.6" fill="#231f20"/>
<ellipse cx="411.9" cy="1172.8" rx="5.5" ry="4.6" fill="#231f20"/>
<ellipse cx="419.4" cy="1172.8" rx="5.5" ry="4.6" fill="#231f20"/>
<ellipse cx="426.9" cy="1172.8" rx="5.5" ry="4.6" fill="#231f20"/>
<ellipse cx="446.2" cy="1172.8" rx="5.5" ry="4.6" fill="#231f20"/>
<ellipse cx="453.4" cy="1172.8" rx="5.5" ry="4.6" fill="#231f20"/>
<ellipse cx="461.0" cy="1172.8" rx="5.5" ry="4.6" fill="#231f20"/>
<ellipse cx="468.5" cy="1172.8" rx="5.5" ry="4.6" fill="#231f20"/>
<ellipse cx="553.4" cy="1172.8" rx="5.5" ry="4.6" fill="#c4626a"/>
<ellipse cx="561.0" cy="1172.8" rx="5.5" ry="4.6" fill="#c4626a"/>
<ellipse cx="568.5" cy="1172.8" rx="5.5" ry="4.6" fill="#c4626a"/>
<ellipse cx="576.0" cy="1172.8" rx="5.5" ry="4.6" fill="#c4626a"/>
<ellipse cx="596.4" cy="1172.8" rx="5.5" ry="4.6" fill="#c4626a"/>
<ellipse cx="603.8" cy="1172.8" rx="5.5" ry="4.6" fill="#c4626a"/>
<ellipse cx="611.2" cy="1172.8" rx="5.5" ry="4.6" fill="#c4626a"/>
<ellipse cx="618.6" cy="1172.8" rx="5.5" ry="4.6" fill="#c4626a"/>
<text font-size="35.5" text-anchor="end" fill="#626262" transform="translate(278.0,1194.5) rotate(-45)" >sham</text>
<text font-size="35.5" text-anchor="end" fill="#111" transform="translate(340.0,1196.0) rotate(-45)" >stim</text>
<text font-size="35.5" text-anchor="end" fill="#626262" transform="translate(428.0,1194.5) rotate(-45)" >sham</text>
<text font-size="35.5" text-anchor="end" fill="#111" transform="translate(490.0,1196.0) rotate(-45)" >stim</text>
<text font-size="35.5" text-anchor="end" fill="#c9575d" transform="translate(578.0,1194.5) rotate(-45)" >sham</text>
<text font-size="35.5" text-anchor="end" fill="#8e1b21" transform="translate(641.5,1196.0) rotate(-45)" >stim</text>
<text x="254.1" y="1291.6" font-size="38.5" text-anchor="middle" fill="#404041" font-style="italic" textLength="93.9" lengthAdjust="spacingAndGlyphs" >intact</text>
<text x="253.7" y="1323.6" font-size="38.5" text-anchor="middle" fill="#404041" font-style="italic" textLength="117.9" lengthAdjust="spacingAndGlyphs" >female</text>
<text x="423.1" y="1291.6" font-size="38.5" text-anchor="middle" fill="#404041" font-style="italic" textLength="61.1" lengthAdjust="spacingAndGlyphs" >ovx</text>
<text x="423.1" y="1323.6" font-size="38.5" text-anchor="middle" fill="#404041" font-style="italic" textLength="117.9" lengthAdjust="spacingAndGlyphs" >female</text>
<text x="575.5" y="1291.6" font-size="38.5" text-anchor="middle" fill="#b5373f" font-style="italic" textLength="61.1" lengthAdjust="spacingAndGlyphs" >ball</text>
</g>
<g id="panel-g">
<text x="710.0" y="877.8" font-size="51" font-weight="bold" textLength="34.3" lengthAdjust="spacingAndGlyphs" >g</text>
<line x1="836.4" y1="905.9" x2="836.4" y2="1175.9" stroke="#1a1a1a" stroke-width="2.0"/>
<line x1="824.6" y1="1174.9" x2="1274.2" y2="1174.9" stroke="#1a1a1a" stroke-width="2.0"/>
<line x1="824.6" y1="907.5" x2="836.4" y2="907.5" stroke="#1a1a1a" stroke-width="2.0"/>
<text x="824.1" y="919.7" font-size="32" text-anchor="end" textLength="55.0" lengthAdjust="spacingAndGlyphs" >500</text>
<line x1="824.6" y1="961.0" x2="836.4" y2="961.0" stroke="#1a1a1a" stroke-width="2.0"/>
<text x="824.1" y="974.5" font-size="32" text-anchor="end" textLength="55.0" lengthAdjust="spacingAndGlyphs" >400</text>
<line x1="824.6" y1="1014.5" x2="836.4" y2="1014.5" stroke="#1a1a1a" stroke-width="2.0"/>
<text x="824.1" y="1025.5" font-size="32" text-anchor="end" textLength="55.0" lengthAdjust="spacingAndGlyphs" >300</text>
<line x1="824.6" y1="1068.0" x2="836.4" y2="1068.0" stroke="#1a1a1a" stroke-width="2.0"/>
<text x="824.1" y="1080.8" font-size="32" text-anchor="end" textLength="55.0" lengthAdjust="spacingAndGlyphs" >200</text>
<line x1="824.6" y1="1121.3" x2="836.4" y2="1121.3" stroke="#1a1a1a" stroke-width="2.0"/>
<text x="824.1" y="1136.5" font-size="32" text-anchor="end" textLength="55.0" lengthAdjust="spacingAndGlyphs" >100</text>
<line x1="824.6" y1="1174.7" x2="836.4" y2="1174.7" stroke="#1a1a1a" stroke-width="2.0"/>
<text x="824.1" y="1182.2" font-size="32" text-anchor="end" textLength="18.3" lengthAdjust="spacingAndGlyphs" >0</text>
<line x1="879.2" y1="1040.3" x2="879.2" y2="1059.6" stroke="#111" stroke-width="1.6"/>
<line x1="871.6" y1="1040.3" x2="888.2" y2="1040.3" stroke="#111" stroke-width="1.6"/>
<line x1="879.2" y1="1119.8" x2="879.2" y2="1133.6" stroke="#111" stroke-width="1.6"/>
<line x1="871.6" y1="1133.6" x2="888.2" y2="1133.6" stroke="#111" stroke-width="1.6"/>
<rect x="864.1" y="1059.6" width="30.1" height="60.2" fill="#fff" stroke="#111" stroke-width="1.6"/>
<line x1="864.1" y1="1108.6" x2="894.2" y2="1108.6" stroke="#111" stroke-width="1.6"/>
<line x1="940.9" y1="928.0" x2="940.9" y2="937.6" stroke="#111" stroke-width="1.6"/>
<line x1="931.9" y1="928.0" x2="949.3" y2="928.0" stroke="#111" stroke-width="1.6"/>
<line x1="940.9" y1="1072.5" x2="940.9" y2="1100.2" stroke="#111" stroke-width="1.6"/>
<line x1="931.9" y1="1100.2" x2="949.3" y2="1100.2" stroke="#111" stroke-width="1.6"/>
<rect x="925.8" y="937.6" width="30.2" height="134.9" fill="#a0a0a0" stroke="#111" stroke-width="1.6"/>
<line x1="925.8" y1="955.1" x2="956.0" y2="955.1" stroke="#111" stroke-width="1.6"/>
<line x1="880.1" y1="1040.3" x2="940.0" y2="955.1" stroke="#4a4a4a" stroke-width="1.0"/>
<line x1="880.1" y1="1074.6" x2="940.0" y2="1047.5" stroke="#4a4a4a" stroke-width="1.0"/>
<line x1="880.1" y1="1108.6" x2="940.0" y2="928.0" stroke="#4a4a4a" stroke-width="1.0"/>
<line x1="880.1" y1="1108.6" x2="940.0" y2="943.0" stroke="#4a4a4a" stroke-width="1.0"/>
<line x1="880.1" y1="1133.6" x2="940.0" y2="1100.2" stroke="#4a4a4a" stroke-width="1.0"/>
<ellipse cx="880.1" cy="1040.3" rx="6" ry="4.6" fill="#373737"/>
<ellipse cx="880.1" cy="1074.6" rx="6" ry="4.6" fill="#373737"/>
<ellipse cx="880.1" cy="1108.6" rx="6" ry="4.6" fill="#373737"/>
<ellipse cx="880.1" cy="1108.6" rx="6" ry="4.6" fill="#373737"/>
<ellipse cx="880.1" cy="1133.6" rx="6" ry="4.6" fill="#373737"/>
<ellipse cx="940.0" cy="955.1" rx="6" ry="4.6" fill="#373737"/>
<ellipse cx="940.0" cy="1047.5" rx="6" ry="4.6" fill="#373737"/>
<ellipse cx="940.0" cy="928.0" rx="6" ry="4.6" fill="#373737"/>
<ellipse cx="940.0" cy="943.0" rx="6" ry="4.6" fill="#373737"/>
<ellipse cx="940.0" cy="1100.2" rx="6" ry="4.6" fill="#373737"/>
<text x="940.9" y="920.9" font-size="41" text-anchor="middle" font-weight="bold" >*</text>
<text font-size="34.6" text-anchor="middle" textLength="235.5" lengthAdjust="spacingAndGlyphs" transform="translate(751.2,1029.6) rotate(-90)" >tot. # of USVs</text>
<text x="898.8" y="846.7" font-size="31" text-anchor="middle" fill="#404041" font-weight="bold" font-style="italic" textLength="188.0" lengthAdjust="spacingAndGlyphs" >w/ baseline</text>
<text x="899.0" y="874.7" font-size="31" text-anchor="middle" fill="#404041" font-weight="bold" font-style="italic" textLength="201.0" lengthAdjust="spacingAndGlyphs" >sing, mount</text>
<text x="1058.0" y="861.1" font-size="31" text-anchor="middle" fill="#404041" font-weight="bold" font-style="italic" textLength="62.0" lengthAdjust="spacingAndGlyphs" >w/o</text>
<text x="1188.2" y="861.1" font-size="31" text-anchor="middle" fill="#b5373f" font-weight="bold" font-style="italic" textLength="62.0" lengthAdjust="spacingAndGlyphs" >w/o</text>
<text x="1019.4" y="1154.8" font-size="35" text-anchor="middle" fill="#8a8a8a" >(0)</text>
<text x="1066.1" y="1154.8" font-size="35" text-anchor="middle" fill="#000" >(0)</text>
<text x="1169.7" y="1154.8" font-size="35" text-anchor="middle" fill="#c9575d" >(0)</text>
<text x="1215.9" y="1154.8" font-size="35" text-anchor="middle" fill="#8e1b21" >(0)</text>
<ellipse cx="1008.9" cy="1172.8" rx="5.5" ry="4.6" fill="#231f20"/>
<ellipse cx="1016.5" cy="1172.8" rx="5.5" ry="4.6" fill="#231f20"/>
<ellipse cx="1024.0" cy="1172.8" rx="5.5" ry="4.6" fill="#231f20"/>
<ellipse cx="1031.5" cy="1172.8" rx="5.5" ry="4.6" fill="#231f20"/>
<ellipse cx="1050.8" cy="1172.8" rx="5.5" ry="4.6" fill="#231f20"/>
<ellipse cx="1058.0" cy="1172.8" rx="5.5" ry="4.6" fill="#231f20"/>
<ellipse cx="1065.6" cy="1172.8" rx="5.5" ry="4.6" fill="#231f20"/>
<ellipse cx="1073.1" cy="1172.8" rx="5.5" ry="4.6" fill="#231f20"/>
<ellipse cx="1158.0" cy="1172.8" rx="5.5" ry="4.6" fill="#c4626a"/>
<ellipse cx="1165.6" cy="1172.8" rx="5.5" ry="4.6" fill="#c4626a"/>
<ellipse cx="1173.1" cy="1172.8" rx="5.5" ry="4.6" fill="#c4626a"/>
<ellipse cx="1180.6" cy="1172.8" rx="5.5" ry="4.6" fill="#c4626a"/>
<ellipse cx="1201.0" cy="1172.8" rx="5.5" ry="4.6" fill="#c4626a"/>
<ellipse cx="1208.4" cy="1172.8" rx="5.5" ry="4.6" fill="#c4626a"/>
<ellipse cx="1215.8" cy="1172.8" rx="5.5" ry="4.6" fill="#c4626a"/>
<ellipse cx="1223.2" cy="1172.8" rx="5.5" ry="4.6" fill="#c4626a"/>
<text font-size="35.5" text-anchor="end" fill="#626262" transform="translate(882.6,1194.5) rotate(-45)" >sham</text>
<text font-size="35.5" text-anchor="end" fill="#111" transform="translate(944.6,1196.0) rotate(-45)" >stim</text>
<text font-size="35.5" text-anchor="end" fill="#626262" transform="translate(1032.6,1194.5) rotate(-45)" >sham</text>
<text font-size="35.5" text-anchor="end" fill="#111" transform="translate(1094.6,1196.0) rotate(-45)" >stim</text>
<text font-size="35.5" text-anchor="end" fill="#c9575d" transform="translate(1182.6,1194.5) rotate(-45)" >sham</text>
<text font-size="35.5" text-anchor="end" fill="#8e1b21" transform="translate(1246.1,1196.0) rotate(-45)" >stim</text>
<text x="858.7" y="1291.6" font-size="38.5" text-anchor="middle" fill="#404041" font-style="italic" textLength="93.9" lengthAdjust="spacingAndGlyphs" >intact</text>
<text x="858.3" y="1323.6" font-size="38.5" text-anchor="middle" fill="#404041" font-style="italic" textLength="117.9" lengthAdjust="spacingAndGlyphs" >female</text>
<text x="1027.7" y="1291.6" font-size="38.5" text-anchor="middle" fill="#404041" font-style="italic" textLength="61.1" lengthAdjust="spacingAndGlyphs" >ovx</text>
<text x="1027.7" y="1323.6" font-size="38.5" text-anchor="middle" fill="#404041" font-style="italic" textLength="117.9" lengthAdjust="spacingAndGlyphs" >female</text>
<text x="1180.1" y="1291.6" font-size="38.5" text-anchor="middle" fill="#b5373f" font-style="italic" textLength="61.1" lengthAdjust="spacingAndGlyphs" >ball</text>
</g>
<g id="panel-h">
<text x="1277.5" y="838.4" font-size="51" font-weight="bold" textLength="33.6" lengthAdjust="spacingAndGlyphs" >h</text>
<g transform="translate(1320,820) scale(0.18077)">
<path d="M968,222 C900,195 800,170 678,150 C600,135 450,128 380,130 C300,132 230,138 190,150 C120,172 70,225 55,290 C45,360 60,440 90,510 C110,555 135,600 160,628" fill="none" stroke="#656565" stroke-width="2.3" stroke-linecap="round" stroke-linejoin="round" vector-effect="non-scaling-stroke"/>
<path d="M160,628 C230,668 330,725 430,790 C500,830 560,860 590,880 C630,930 650,980 678,1030" fill="none" stroke="#656565" stroke-width="2.3" stroke-linecap="round" stroke-linejoin="round" vector-effect="non-scaling-stroke"/>
<path d="M605,862 C630,866 660,890 678,915" fill="none" stroke="#656565" stroke-width="2.3" stroke-linecap="round" stroke-linejoin="round" vector-effect="non-scaling-stroke"/>
<path d="M590,930 L597,945" fill="none" stroke="#656565" stroke-width="2.3" stroke-linecap="round" stroke-linejoin="round" vector-effect="non-scaling-stroke"/>
<path d="M160,628 C130,622 100,640 88,670 C78,710 78,760 70,795 C65,808 52,805 52,790 L52,700" fill="none" stroke="#656565" stroke-width="2.3" stroke-linecap="round" stroke-linejoin="round" vector-effect="non-scaling-stroke"/>
<path d="M52,833 L100,833 C150,815 250,820 400,850 C470,862 540,875 590,895" fill="none" stroke="#656565" stroke-width="2.3" stroke-linecap="round" stroke-linejoin="round" vector-effect="non-scaling-stroke"/>
<path d="M100,833 C160,900 230,1000 300,1090 C350,1150 410,1190 470,1195 C515,1195 530,1160 510,1100 C480,1030 420,970 340,920 C260,875 170,845 110,830" fill="none" stroke="#656565" stroke-width="2.3" stroke-linecap="round" stroke-linejoin="round" vector-effect="non-scaling-stroke"/>
<path d="M52,1105 L150,1140 C180,1148 200,1148 215,1150 L265,1190 C245,1210 205,1240 185,1265 L185,1330" fill="none" stroke="#656565" stroke-width="2.3" stroke-linecap="round" stroke-linejoin="round" vector-effect="non-scaling-stroke"/>
<path d="M150,1143 L185,1262" fill="none" stroke="#656565" stroke-width="2.3" stroke-linecap="round" stroke-linejoin="round" vector-effect="non-scaling-stroke"/>
<path d="M678,470 C620,455 540,430 490,428 C450,430 435,470 450,505 C470,540 500,575 515,600 C520,640 530,670 570,678 C610,670 650,650 678,640" fill="none" stroke="#656565" stroke-width="2.3" stroke-linecap="round" stroke-linejoin="round" vector-effect="non-scaling-stroke"/>
<path d="M678,535 C640,530 590,530 560,540 C535,560 540,600 560,620 C590,630 640,610 678,595" fill="none" stroke="#656565" stroke-width="2.3" stroke-linecap="round" stroke-linejoin="round" vector-effect="non-scaling-stroke"/>
<path d="M510,485 L518,600" fill="none" stroke="#656565" stroke-width="2.3" stroke-linecap="round" stroke-linejoin="round" vector-effect="non-scaling-stroke"/>
<path d="M557,455 L560,480" fill="none" stroke="#656565" stroke-width="2.3" stroke-linecap="round" stroke-linejoin="round" vector-effect="non-scaling-stroke"/>
<path d="M825,545 C880,560 930,580 968,600" fill="none" stroke="#656565" stroke-width="2.3" stroke-linecap="round" stroke-linejoin="round" vector-effect="non-scaling-stroke"/>
<path d="M825,565 C880,580 930,597 968,615" fill="none" stroke="#656565" stroke-width="2.3" stroke-linecap="round" stroke-linejoin="round" vector-effect="non-scaling-stroke"/>
<path d="M825,580 C880,595 930,612 968,630" fill="none" stroke="#656565" stroke-width="2.3" stroke-linecap="round" stroke-linejoin="round" vector-effect="non-scaling-stroke"/>
<path d="M825,1105 C870,1140 920,1185 950,1210 C980,1250 1010,1285 1040,1330" fill="none" stroke="#656565" stroke-width="2.3" stroke-linecap="round" stroke-linejoin="round" vector-effect="non-scaling-stroke"/>
<path d="M825,1150 C880,1165 910,1185 935,1205" fill="none" stroke="#656565" stroke-width="2.3" stroke-linecap="round" stroke-linejoin="round" vector-effect="non-scaling-stroke"/>
<path d="M950,1210 C900,1235 875,1280 870,1330" fill="none" stroke="#656565" stroke-width="2.3" stroke-linecap="round" stroke-linejoin="round" vector-effect="non-scaling-stroke"/>
<path d="M63,1110 L63,1356" fill="none" stroke="#6b6b6b" stroke-width="4.2" stroke-linecap="round" vector-effect="non-scaling-stroke"/>
</g>
<g transform="translate(1320,1040) scale(0.18077)">
<path d="M185,110 C185,160 175,220 160,270 C145,310 120,340 128,400 C120,440 95,470 75,490 L52,492" fill="none" stroke="#656565" stroke-width="2.3" stroke-linecap="round" stroke-linejoin="round" vector-effect="non-scaling-stroke"/>
<path d="M75,490 C95,530 108,580 122,645" fill="none" stroke="#656565" stroke-width="2.3" stroke-linecap="round" stroke-linejoin="round" vector-effect="non-scaling-stroke"/>
<path d="M90,500 C110,545 125,590 138,642" fill="none" stroke="#656565" stroke-width="2.3" stroke-linecap="round" stroke-linejoin="round" vector-effect="non-scaling-stroke"/>
<path d="M205,695 A50,50 0 1 1 105,695 A50,50 0 1 1 205,695" fill="none" stroke="#656565" stroke-width="2.3" stroke-linecap="round" stroke-linejoin="round" vector-effect="non-scaling-stroke"/>
<path d="M52,762 C100,760 150,775 175,820 C195,860 190,895 150,900 L52,903" fill="none" stroke="#656565" stroke-width="2.3" stroke-linecap="round" stroke-linejoin="round" vector-effect="non-scaling-stroke"/>
<path d="M590,500 C500,505 420,570 385,660 C370,700 375,715 395,708 C450,680 520,620 570,580" fill="none" stroke="#656565" stroke-width="2.3" stroke-linecap="round" stroke-linejoin="round" vector-effect="non-scaling-stroke"/>
<path d="M600,660 C520,720 440,770 385,815 C355,850 352,885 360,915" fill="none" stroke="#656565" stroke-width="2.3" stroke-linecap="round" stroke-linejoin="round" vector-effect="non-scaling-stroke"/>
<path d="M405,940 C480,950 560,950 650,915 C740,875 810,820 860,750 C900,660 915,550 935,470 C950,450 990,455 1010,462" fill="none" stroke="#656565" stroke-width="2.3" stroke-linecap="round" stroke-linejoin="round" vector-effect="non-scaling-stroke"/>
<path d="M405,940 C408,965 418,980 432,987" fill="none" stroke="#656565" stroke-width="2.3" stroke-linecap="round" stroke-linejoin="round" vector-effect="non-scaling-stroke"/>
<path d="M340,940 C310,965 312,1000 330,1015 L392,1052 C380,1085 330,1105 290,1110 C200,1118 120,1116 52,1118" fill="none" stroke="#656565" stroke-width="2.3" stroke-linecap="round" stroke-linejoin="round" vector-effect="non-scaling-stroke"/>
<path d="M340,940 C380,952 410,975 432,987 C480,1005 560,1010 620,985 C700,945 780,895 830,845 C880,785 930,690 970,585 C1000,500 1040,380 1075,290 C1095,230 1090,180 1060,130 C1030,85 990,40 950,0" fill="none" stroke="#656565" stroke-width="2.3" stroke-linecap="round" stroke-linejoin="round" vector-effect="non-scaling-stroke"/>
<path d="M950,0 C900,25 878,60 875,110 L875,200 C878,260 895,300 930,312 C980,320 1045,305 1085,282" fill="none" stroke="#656565" stroke-width="2.3" stroke-linecap="round" stroke-linejoin="round" vector-effect="non-scaling-stroke"/>
<path d="M895,442 C930,425 980,425 1000,437 C1012,445 1018,455 1020,462" fill="none" stroke="#656565" stroke-width="2.3" stroke-linecap="round" stroke-linejoin="round" vector-effect="non-scaling-stroke"/>
<path d="M822,852 C805,885 805,925 825,948 C850,968 885,980 905,990" fill="none" stroke="#656565" stroke-width="2.3" stroke-linecap="round" stroke-linejoin="round" vector-effect="non-scaling-stroke"/>
<path d="M905,990 L1030,815" fill="none" stroke="#656565" stroke-width="2.3" stroke-linecap="round" stroke-linejoin="round" vector-effect="non-scaling-stroke"/>
<path d="M1175,940 L1217,915" fill="none" stroke="#656565" stroke-width="2.3" stroke-linecap="round" stroke-linejoin="round" vector-effect="non-scaling-stroke"/>
<g>
<path d="M690,310 C700,280 740,270 780,275 C820,285 840,330 880,345 C920,355 940,375 930,405 C915,435 880,440 840,445 C800,450 740,440 710,410 C685,380 680,340 690,310 Z" fill="#4fb5e2" fill-opacity="0.85"/>
<path d="M575,390 C580,340 620,315 660,320 C690,325 690,360 700,400 C700,440 650,460 610,450 C585,440 572,420 575,390 Z" fill="#ea4fa8" fill-opacity="0.85"/>
<path d="M580,425 C590,385 640,365 690,380 C740,375 810,370 840,385 C855,400 840,430 800,440 C760,445 720,440 690,430 C660,455 620,460 600,450 Z" fill="#8c3b97" fill-opacity="0.8"/>
<path d="M585,440 C575,480 590,500 570,540 C545,590 510,630 510,660 C520,685 560,680 600,660 C650,630 690,590 740,550 C780,520 840,470 880,440 C830,425 760,420 700,395 C650,390 610,410 585,440 Z" fill="#2bb38f" fill-opacity="0.8"/>
<path d="M880,440 C870,480 850,530 810,560 C770,580 720,570 690,590 C640,620 560,680 520,672 C505,650 530,610 560,580 C640,520 760,470 880,440 Z" fill="#e6e22e" fill-opacity="0.75"/>
<path d="M660,365 C680,380 720,430 800,445 C760,480 700,540 640,570 C600,600 480,680 445,690 C500,640 560,560 590,500 C605,450 630,400 660,365 Z" fill="#eda63a" fill-opacity="0.85"/>
<path d="M511,667 C515,630 560,575 600,544 C650,515 760,465 832,448 C810,490 790,520 764,544 C730,575 700,590 668,612 C640,635 600,670 573,681 C550,688 520,690 511,667 Z" fill="#b9d23c" fill-opacity="0.85"/>
</g>
</g>
<path d="M1626.7,946.3 C1629.1,949.3 1636.3,957.4 1641.1,964.3 C1645.9,971.3 1651.1,979.7 1655.6,987.8 C1660.1,996.0 1664.6,1004.7 1668.2,1013.2 C1671.8,1021.6 1675.1,1030.7 1677.3,1038.5 C1679.5,1046.3 1680.4,1054.4 1681.4,1060.0 C1682.4,1065.6 1683.1,1068.0 1683.3,1072.0 C1683.5,1076.1 1683.4,1080.3 1682.7,1084.1 C1681.9,1087.9 1679.7,1092.1 1679.0,1094.9 C1678.3,1097.8 1678.2,1098.8 1678.4,1101.0 C1678.6,1103.2 1680.0,1105.0 1680.2,1108.2 C1680.4,1111.4 1680.4,1115.2 1679.6,1120.2 C1678.8,1125.3 1677.3,1131.7 1675.4,1138.3 C1673.5,1144.9 1670.8,1153.0 1668.2,1160.0 C1665.6,1167.0 1662.8,1173.9 1659.8,1180.5 C1656.7,1187.1 1653.8,1192.9 1650.1,1199.8 C1646.4,1206.6 1642.0,1215.4 1637.5,1221.8 C1633.0,1228.1 1628.2,1233.5 1623.0,1238.0 C1617.9,1242.6 1612.5,1246.2 1606.8,1248.9 C1601.0,1251.6 1594.7,1252.2 1588.7,1254.3 C1582.7,1256.4 1576.6,1259.9 1570.6,1261.5 C1564.6,1263.2 1557.7,1264.4 1552.5,1264.2 C1547.4,1264.1 1544.1,1262.7 1539.9,1260.6 C1535.7,1258.5 1532.4,1255.4 1527.2,1251.6 C1522.1,1247.8 1514.9,1242.3 1509.2,1238.0 C1503.4,1233.8 1497.1,1229.4 1492.9,1226.3 C1488.7,1223.1 1485.4,1220.3 1483.8,1219.1" fill="none" stroke="#656565" stroke-width="2.3" stroke-linecap="round" stroke-linejoin="round"/>
<path d="M1520.0,946.3 C1522.7,947.5 1529.9,949.6 1536.3,953.5 C1542.6,957.4 1550.4,962.8 1558.0,969.8 C1565.5,976.7 1573.9,985.4 1581.5,995.1 C1589.0,1004.7 1597.1,1016.8 1603.2,1027.6 C1609.2,1038.5 1614.6,1052.7 1617.6,1060.2 C1620.6,1067.6 1620.3,1067.1 1621.2,1072.0 C1622.1,1077.0 1622.8,1084.1 1623.0,1090.1 C1623.2,1096.1 1623.1,1102.6 1622.4,1108.2 C1621.7,1113.8 1620.4,1118.8 1618.8,1123.9 C1617.2,1128.9 1615.2,1133.7 1612.8,1138.3 C1610.4,1142.9 1607.8,1146.9 1604.3,1151.6 C1600.9,1156.2 1596.7,1161.4 1592.3,1166.0 C1587.9,1170.6 1582.2,1175.5 1577.8,1179.3 C1573.4,1183.1 1568.1,1186.6 1565.8,1188.9 C1563.5,1191.2 1564.3,1192.4 1564.0,1193.1" fill="none" stroke="#656565" stroke-width="2.3" stroke-linecap="round" stroke-linejoin="round"/>
<path d="M1530.8,946.3 C1533.9,947.8 1542.3,950.8 1548.9,955.3 C1555.6,959.8 1563.1,965.9 1570.6,973.4 C1578.1,980.9 1586.9,990.6 1594.1,1000.5 C1601.3,1010.4 1608.7,1022.2 1614.0,1033.0 C1619.3,1043.9 1623.7,1058.7 1625.7,1065.6 C1627.8,1072.5 1625.7,1070.2 1626.0,1074.5 C1626.3,1078.7 1627.4,1085.3 1627.5,1091.3 C1627.6,1097.3 1627.5,1104.6 1626.6,1110.6 C1625.8,1116.6 1624.3,1122.0 1622.4,1127.5 C1620.5,1132.9 1617.8,1138.5 1615.2,1143.1 C1612.6,1147.8 1610.0,1151.0 1606.7,1155.2 C1603.5,1159.4 1599.4,1164.4 1595.9,1168.4 C1592.4,1172.4 1587.4,1177.5 1585.7,1179.3" fill="none" stroke="#656565" stroke-width="2.3" stroke-linecap="round" stroke-linejoin="round"/>
<path d="M1536.3,946.3 C1539.3,947.8 1547.7,950.8 1554.3,955.3 C1561.0,959.8 1568.5,965.6 1576.0,973.4 C1583.6,981.2 1592.6,992.1 1599.5,1002.3 C1606.5,1012.6 1612.8,1024.0 1617.6,1034.8 C1622.4,1045.7 1626.5,1060.8 1628.5,1067.4 C1630.5,1074.0 1629.1,1070.5 1629.6,1074.5 C1630.1,1078.4 1631.3,1085.3 1631.4,1091.3 C1631.5,1097.3 1631.1,1104.6 1630.2,1110.6 C1629.3,1116.6 1627.9,1122.0 1626.0,1127.5 C1624.1,1132.9 1621.4,1138.5 1618.8,1143.1 C1616.2,1147.8 1613.6,1151.0 1610.4,1155.2 C1607.1,1159.4 1603.0,1164.5 1599.5,1168.4 C1596.0,1172.3 1591.0,1177.0 1589.3,1178.7" fill="none" stroke="#656565" stroke-width="2.3" stroke-linecap="round" stroke-linejoin="round"/>
<path d="M1469.2,969.0 C1472.8,970.5 1483.8,974.5 1491.1,977.9 C1498.3,981.3 1505.5,985.0 1512.8,989.7 C1520.0,994.3 1528.1,1000.2 1534.5,1005.9 C1540.8,1011.6 1546.2,1017.7 1550.7,1024.0 C1555.2,1030.3 1558.9,1036.7 1561.6,1043.9 C1564.3,1051.1 1566.1,1063.5 1567.0,1067.4" fill="none" stroke="#656565" stroke-width="2.3" stroke-linecap="round" stroke-linejoin="round"/>
<path d="M1564.0,1193.1 C1558.8,1195.9 1537.9,1207.2 1532.7,1210.0" fill="none" stroke="#656565" stroke-width="2.3" stroke-linecap="round" stroke-linejoin="round"/>
<rect x="1442.6" y="828.5" width="26.5" height="253.5" fill="#fff" stroke="#333" stroke-width="1.2"/>
<rect x="1495.2" y="850.7" width="173" height="95.6" fill="#fff" stroke="#333" stroke-width="1.2"/>
<text x="1518.0" y="896.3" font-size="32" fill="#404041" font-weight="bold" font-style="italic" textLength="85.0" lengthAdjust="spacingAndGlyphs" >SPFp</text>
<text x="1603.5" y="885.2" font-size="18.5" fill="#404041" font-weight="bold" font-style="italic" textLength="47.5" lengthAdjust="spacingAndGlyphs" >Pth2</text>
<text x="1518.0" y="928.7" font-size="32" fill="#404041" font-weight="bold" font-style="italic" textLength="90.0" lengthAdjust="spacingAndGlyphs" >ChR2</text>
</g>
</svg>
</body></html>
